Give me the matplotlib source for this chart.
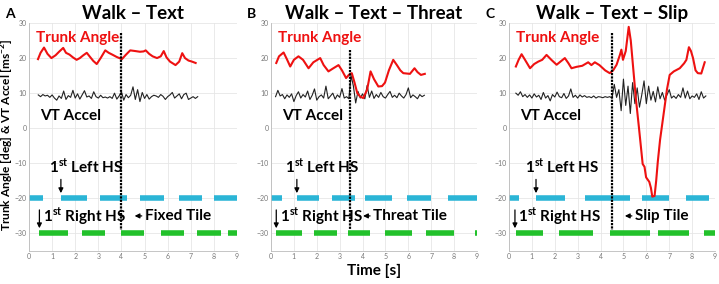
import matplotlib.pyplot as plt
import numpy as np

plt.rcParams['font.family'] = ['Lato', 'DejaVu Sans']
plt.rcParams['mathtext.fontset'] = 'custom'
plt.rcParams['mathtext.rm'] = 'Lato'
plt.rcParams['mathtext.bf'] = 'Lato:bold'

# ---- dados estimados da figura ----
titles = ["Walk – Text", "Walk – Text – Threat", "Walk – Text – Slip"]
letters = ["A", "B", "C"]
tile_labels = ["Fixed Tile", "Threat Tile", "Slip Tile"]
tile_time = [4.0, 3.45, 4.49]
tile_top = [27.1, 22.3, 27.1]

# Trunk angle (tempo, graus)
trunk_t_a = [0.39, 0.5, 0.65, 0.8, 0.97, 1.15, 1.3, 1.48, 1.6, 1.75, 1.9, 2.06, 2.2, 2.35, 2.5,
             2.62, 2.78, 2.93, 3.1, 3.3, 3.45, 3.6, 3.8, 4.02, 4.2, 4.38, 4.6, 4.8, 4.96, 5.05,
             5.2, 5.35, 5.54, 5.7, 5.83, 5.95, 6.1, 6.34, 6.5, 6.63, 6.75, 6.9, 7.05, 7.21]
trunk_a = [19.7, 21.5, 23.0, 21.2, 20.0, 20.8, 21.8, 22.9, 21.5, 21.0, 20.2, 19.5, 20.0, 20.8, 21.5,
           20.5, 19.2, 18.3, 20.0, 22.2, 21.5, 21.0, 20.3, 19.7, 21.0, 22.2, 22.0, 21.8, 21.9, 22.2,
           21.2, 20.5, 20.0, 20.5, 22.0, 20.2, 19.0, 18.0, 19.0, 21.4, 20.0, 19.3, 19.0, 18.6]

trunk_t_b = [0.23, 0.35, 0.55, 0.7, 0.84, 1.0, 1.2, 1.4, 1.64, 1.85, 2.15, 2.3, 2.51, 2.7, 2.95,
             3.1, 3.28, 3.4, 3.53, 3.65, 3.77, 3.9, 4.03, 4.2, 4.35, 4.5, 4.69, 4.85, 4.98, 5.15,
             5.34, 5.5, 5.65, 5.78, 6.07, 6.27, 6.4, 6.55, 6.72]
trunk_b = [18.6, 20.5, 21.6, 19.6, 17.6, 19.5, 20.5, 19.5, 17.1, 18.8, 20.0, 18.0, 16.2, 17.0, 18.0,
           16.5, 14.3, 15.2, 15.7, 13.0, 10.0, 9.0, 8.6, 11.0, 16.2, 14.0, 11.9, 12.0, 13.0, 16.5,
           19.5, 18.0, 16.5, 15.7, 15.5, 17.1, 16.0, 15.2, 15.5]

trunk_t_c = [0.3, 0.42, 0.55, 0.7, 0.92, 1.1, 1.28, 1.45, 1.64, 1.85, 2.08, 2.25, 2.44, 2.6, 2.73,
             2.95, 3.2, 3.46, 3.6, 3.75, 3.95, 4.2, 4.4, 4.55, 4.7, 4.85, 4.91, 4.98, 5.1, 5.23,
             5.32, 5.42, 5.55, 5.68, 5.84, 5.92, 5.99, 6.13, 6.2, 6.26, 6.36, 6.43, 6.5, 6.6,
             6.8, 6.9, 7.02, 7.2, 7.46, 7.65, 7.75, 7.86, 7.95, 8.04, 8.15, 8.25, 8.4, 8.55]
trunk_c = [17.6, 19.5, 21.1, 19.5, 17.1, 18.3, 19.0, 19.5, 20.9, 19.5, 18.1, 19.0, 20.0, 18.5, 17.1,
           17.5, 17.8, 18.8, 18.0, 18.8, 18.0, 16.5, 15.7, 16.5, 18.1, 21.0, 22.4, 19.5, 22.0, 28.9,
           25.0, 17.6, 8.0, 0.0, -10.2, -11.0, -14.0, -15.3, -17.0, -19.5, -19.3, -15.0, -9.6, -3.3,
           6.2, 11.0, 15.2, 16.2, 17.1, 18.5, 19.5, 23.1, 22.0, 20.0, 16.5, 15.7, 15.6, 18.8]

# VT accel (amostras a cada 0.1 s)
vt_start = [0.4, 0.2, 0.3]
vt_a = [9.5, 9.0, 9.6, 9.2, 9.4, 8.8, 9.5, 8.6, 8.0, 9.2, 8.5, 10.6, 8.2, 9.3, 8.8, 10.8, 8.6, 9.8,
        8.3, 9.5, 10.7, 8.9, 9.2, 8.5, 10.4, 9.0, 8.6, 9.4, 8.7, 8.9, 8.6, 9.0, 8.5, 10.0, 8.3, 9.2,
        10.4, 8.0, 9.6, 8.7, 9.4, 11.8, 8.2, 11.0, 7.6, 10.2, 8.5, 9.6, 8.3, 9.0, 9.4, 9.2, 8.8, 9.6,
        9.1, 8.2, 9.0, 9.5, 10.2, 8.6, 9.2, 9.8, 8.4, 9.6, 10.0, 8.2, 8.6, 9.0, 8.5, 9.0]
vt_b = [9.0, 10.8, 9.2, 9.6, 8.4, 9.5, 8.8, 9.8, 7.6, 9.3, 10.4, 8.6, 9.6, 8.9, 10.6, 8.2, 9.4, 11.2,
        8.0, 9.0, 9.5, 8.6, 12.0, 8.4, 9.2, 10.0, 8.3, 9.5, 8.8, 11.3, 8.6, 9.0, 8.4, 15.0, 12.0, 7.2,
        10.5, 8.6, 9.8, 8.4, 12.2, 8.8, 10.6, 8.5, 9.6, 8.8, 10.2, 9.0, 8.6, 9.6, 10.5, 8.8, 9.4, 8.7,
        10.0, 9.2, 8.6, 9.6, 11.5, 8.7, 9.5, 9.0, 8.4, 9.6, 9.0, 9.4]
vt_c = [10.0, 9.4, 10.4, 9.0, 9.6, 8.8, 9.5, 8.6, 9.8, 8.9, 9.4, 8.2, 10.2, 8.6, 9.3, 7.8, 9.6, 8.9,
        10.3, 9.0, 8.7, 9.9, 8.5, 9.2, 11.2, 8.8, 9.4, 8.6, 9.5, 8.9, 9.3, 8.8, 9.0, 8.7, 9.2, 8.6,
        9.0, 8.9, 8.7, 9.0, 8.8, 9.0,
        8.6, 12.5, 8.8, 11.0, 5.0, 14.0, 6.5, 12.0, 4.2, 13.0, 7.0, 11.5, 6.0, 9.5, 13.5, 7.0, 12.0,
        8.0, 10.5, 7.5, 11.8, 8.4, 10.2, 8.0, 9.5, 11.0, 8.6, 9.2, 8.5, 9.6, 8.8, 11.5, 8.6, 10.6,
        8.4, 9.2, 8.8, 9.8, 8.2, 10.4, 8.6, 9.2]

# fases de apoio (inicio, fim) - esquerdo em -20, direito em -30
left_a = [(0, 0.61), (1.38, 2.5), (3.08, 4.24), (4.82, 5.83), (6.49, 7.5), (8.01, 9)]
right_a = [(0.44, 1.7), (2.28, 3.29), (3.99, 4.99), (5.69, 6.7), (7.29, 8.3), (8.6, 9)]
left_b = [(0, 0.48), (1.13, 2.08), (2.66, 3.67), (4.1, 5.27), (5.92, 7.0), (7.74, 9)]
right_b = [(0.23, 1.35), (1.89, 2.87), (3.38, 4.33), (4.98, 6.18), (6.76, 7.98), (8.9, 9)]
left_c = [(0, 0.45), (1.2, 2.45), (3.3, 5.3), (5.8, 7.0), (7.75, 8.75)]
right_c = [(0.3, 1.5), (2.2, 3.65), (4.4, 6.15), (6.5, 7.85), (8.5, 9)]

first_left = [1.38, 1.13, 1.18]
first_right = [0.45, 0.23, 0.26]

trunk_t = [trunk_t_a, trunk_t_b, trunk_t_c]
trunk = [trunk_a, trunk_b, trunk_c]
vt = [vt_a, vt_b, vt_c]
left = [left_a, left_b, left_c]
right = [right_a, right_b, right_c]

fig = plt.figure(figsize=(7.19, 2.84), dpi=100)
lefts = [29 / 719, 271 / 719, 509 / 719]
widths = [208 / 719, 206 / 719, 206 / 719]

for i in range(3):
    ax = fig.add_axes([lefts[i], 33 / 284, widths[i], 228 / 284])
    ax.set_xlim(0, 9)
    ax.set_ylim(-35, 30)
    ax.set_xticks(range(10))
    ax.set_yticks([-30, -20, -10, 0, 10, 20, 30])
    ax.grid(True, color='#e6e6e6', lw=0.6)
    ax.tick_params(labelsize=5, colors='#777777', length=0, pad=1.5)
    for s in ['top', 'right']:
        ax.spines[s].set_visible(False)
    for s in ['left', 'bottom']:
        ax.spines[s].set_color('#bbbbbb')
        ax.spines[s].set_linewidth(0.6)

    # passos
    for a, b in left[i]:
        ax.plot([a, b], [-20, -20], color='#2bb5d6', lw=4, solid_capstyle='butt')
    for a, b in right[i]:
        ax.plot([a, b], [-30, -30], color='#22c12b', lw=4, solid_capstyle='butt')

    t_vt = vt_start[i] + 0.1 * np.arange(len(vt[i]))
    ax.plot(t_vt, vt[i], color='#222222', lw=0.8)
    ax.plot(trunk_t[i], trunk[i], color='#ee1111', lw=1.5)

    ax.plot([tile_time[i], tile_time[i]], [tile_top[i], -29], color='k', lw=1.6, ls=(0, (1, 0.5)))

    ax.text(0.3, 25.7, "Trunk Angle", color='#ee1111', fontsize=11, fontweight='bold', va='center')
    ax.text(0.5, 3.5, "VT Accel", color='k', fontsize=11, fontweight='bold', va='center')

    fl = first_left[i]
    ax.text(fl - 0.5, -11, r"1$^{\mathbf{st}}$ Left HS", fontsize=11, fontweight='bold', va='center')
    ax.annotate('', xy=(fl, -19.3), xytext=(fl, -13.8),
                arrowprops=dict(arrowstyle='-|>', color='k', lw=0.9, mutation_scale=7))
    fr = first_right[i]
    ax.text(fr + 0.15, -25, r"1$^{\mathbf{st}}$ Right HS", fontsize=11, fontweight='bold', va='center')
    ax.annotate('', xy=(fr, -29.3), xytext=(fr, -22.5),
                arrowprops=dict(arrowstyle='-|>', color='k', lw=0.9, mutation_scale=7))

    tt = tile_time[i]
    ax.annotate('', xy=(tt + 0.45, -25), xytext=(tt + 1.0, -25),
                arrowprops=dict(arrowstyle='-|>', color='k', lw=0.9, mutation_scale=7))
    ax.text(tt + 1.02, -25, tile_labels[i], fontsize=11, fontweight='bold', va='center')

    ax.set_title(titles[i], fontsize=13.5, fontweight='bold', pad=3)
    fig.text(lefts[i] - 0.033, 0.95, letters[i], fontsize=10, fontweight='bold', va='center')

fig.text(0.0105, 0.525, r"Trunk Angle [deg] & VT Accel [ms$^{\mathbf{-2}}$]", rotation=90,
         fontsize=8.6, fontweight='bold', va='center', ha='center')
fig.text(0.52, 0.045, "Time [s]", fontsize=11, fontweight='bold', ha='center', va='center')

fig.savefig('out.png', dpi=100)
